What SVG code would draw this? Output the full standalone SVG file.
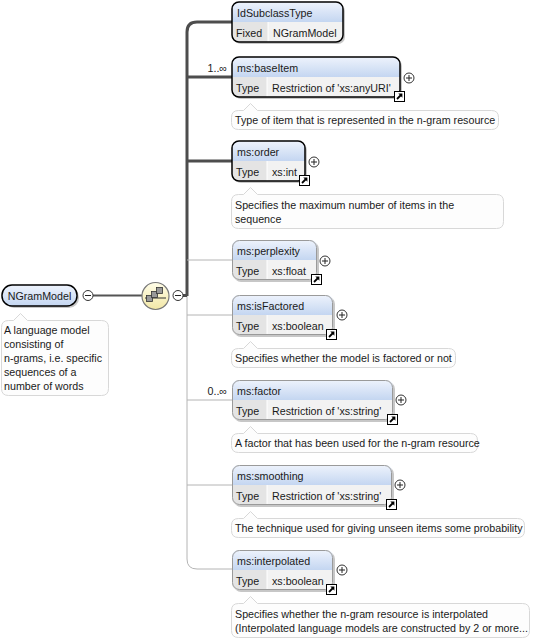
<svg xmlns="http://www.w3.org/2000/svg" width="554" height="640" viewBox="0 0 554 640">
<style>
.t{font-family:"Liberation Sans",Arial,sans-serif;font-size:10.7px;fill:#1a1a1a}
.hdr{fill:url(#hg)}
.body{fill:#f2f2f2}
.cell{fill:#e4e4e4}
.div{stroke:#fff;stroke-width:1}
.sh{fill:#000;opacity:0.22}
.req{fill:none;stroke:#000;stroke-width:1.5}
.opt{fill:none;stroke:#9a9a9a;stroke-width:1}
.doc{fill:#fdfdfd;stroke:#d8d8d8;stroke-width:1}
.thick{fill:none;stroke:#4d4d4d;stroke-width:3}
.thin{fill:none;stroke:#b4b4b4;stroke-width:1}
.btn{fill:#fff;stroke:#333;stroke-width:1}
.sign{stroke:#222;stroke-width:1}
</style>
<defs>
<linearGradient id="hg" x1="0" y1="0" x2="0" y2="1">
<stop offset="0" stop-color="#eef3fc"/>
<stop offset="1" stop-color="#c4d6f1"/>
</linearGradient>
<linearGradient id="yg" x1="0" y1="0" x2="0" y2="1">
<stop offset="0" stop-color="#fffde8"/>
<stop offset="1" stop-color="#f2e7a6"/>
</linearGradient>
<g id="plus"><circle r="5" class="btn"/><path d="M-3,0H3M0,-3V3" class="sign"/></g>
<g id="minus"><circle r="5" class="btn"/><path d="M-3,0H3" class="sign"/></g>
<g id="link"><rect x="0.5" y="0.5" width="10" height="10" fill="#fff" stroke="#000"/><path d="M3,8 L7,4" stroke="#000" stroke-width="1.8"/><path d="M4.3,2.6 L8.4,2.6 L8.4,6.7 Z" fill="#000"/></g>
</defs>

<g id="connectors">
<path class="thick" d="M232,22 H197 Q187,22 187,32 V296"/>
<path class="thick" d="M187,77 H232"/>
<path class="thick" d="M187,161 H232"/>
<path class="thin" d="M187,296 V559 Q187,569 197,569 H232"/>
<path class="thin" d="M187,260 H232"/>
<path class="thin" d="M187,315 H232"/>
<path class="thin" d="M187,400 H232"/>
<path class="thin" d="M187,485 H232"/>
<path d="M93,295.5 H142" stroke="#555" stroke-width="2"/>
<path d="M183,295.5 H187" stroke="#4d4d4d" stroke-width="3"/>
<text class="t" x="227" y="72" text-anchor="end">1..∞</text>
<text class="t" x="227" y="395" text-anchor="end">0..∞</text>
</g>

<g id="n-NGramModel">
<rect x="4" y="287" width="75" height="21" rx="10" class="sh"/>
<rect x="2" y="285" width="75" height="21" rx="10" class="hdr"/>
<rect x="2" y="285" width="75" height="21" rx="10" class="req"/>
<text class="t" x="39.5" y="299.5" text-anchor="middle">NGramModel</text>
<use href="#minus" x="88" y="295.5"/>
<path class="doc" d="M8.5,320.5 H13.5 L20.5,313.5 L27.5,320.5 H101.5 Q108.5,320.5 108.5,327.5 V388.5 Q108.5,395.5 101.5,395.5 H8.5 Q1.5,395.5 1.5,388.5 V327.5 Q1.5,320.5 8.5,320.5 Z"/>
<text class="t" x="4" y="334">A language model</text>
<text class="t" x="4" y="348">consisting of</text>
<text class="t" x="4" y="362">n-grams, i.e. specific</text>
<text class="t" x="4" y="376">sequences of a</text>
<text class="t" x="4" y="390">number of words</text>
</g>

<g id="n-sequence">
<circle cx="155.5" cy="296" r="13.5" fill="url(#yg)" stroke="#777" stroke-width="1.2"/>
<path d="M145,298 H166" stroke="#333" stroke-width="1"/>
<rect x="146.5" y="295.5" width="6" height="6" fill="#999" stroke="#333" stroke-width="0.8"/>
<rect x="151.5" y="291.5" width="6" height="6" fill="#999" stroke="#333" stroke-width="0.8"/>
<rect x="156.5" y="287.5" width="6" height="6" fill="#999" stroke="#333" stroke-width="0.8"/>
<use href="#minus" x="178" y="295.5"/>
</g>

<g id="n-IdSubclassType">
<rect x="234" y="4" width="111" height="40" rx="7" class="sh"/>
<rect x="232" y="2" width="111" height="40" rx="7" class="body"/>
<path class="hdr" d="M232,22 V9 Q232,2 239,2 H336 Q343,2 343,9 V22 Z"/>
<path class="cell" d="M232,22 H268 V42 H239 Q232,42 232,35 Z"/>
<path class="div" d="M268,22 V42"/>
<rect x="232" y="2" width="111" height="40" rx="7" class="req"/>
<text class="t" x="237" y="17">IdSubclassType</text>
<text class="t" x="236" y="37">Fixed</text>
<text class="t" x="273" y="37">NGramModel</text>
</g>

<g id="n-baseItem">
<rect x="234" y="59" width="168" height="40" rx="7" class="sh"/>
<rect x="232" y="57" width="168" height="40" rx="7" class="body"/>
<path class="hdr" d="M232,77 V64 Q232,57 239,57 H393 Q400,57 400,64 V77 Z"/>
<path class="cell" d="M232,77 H267 V97 H239 Q232,97 232,90 Z"/>
<path class="div" d="M267,77 V97"/>
<rect x="232" y="57" width="168" height="40" rx="7" class="req"/>
<text class="t" x="237" y="72">ms:baseItem</text>
<text class="t" x="236" y="92">Type</text>
<text class="t" x="272" y="92">Restriction of 'xs:anyURI'</text>
<use href="#plus" x="409" y="78"/>
<use href="#link" x="394" y="91"/>
<path class="doc" d="M238.5,110.5 H243.5 L250.5,103.5 L257.5,110.5 H491.5 Q498.5,110.5 498.5,117.5 V122.5 Q498.5,129.5 491.5,129.5 H238.5 Q231.5,129.5 231.5,122.5 V117.5 Q231.5,110.5 238.5,110.5 Z"/>
<text class="t" x="235" y="124">Type of item that is represented in the n-gram resource</text>
</g>

<g id="n-order">
<rect x="234" y="143" width="73" height="40" rx="7" class="sh"/>
<rect x="232" y="141" width="73" height="40" rx="7" class="body"/>
<path class="hdr" d="M232,161 V148 Q232,141 239,141 H298 Q305,141 305,148 V161 Z"/>
<path class="cell" d="M232,161 H267 V181 H239 Q232,181 232,174 Z"/>
<path class="div" d="M267,161 V181"/>
<rect x="232" y="141" width="73" height="40" rx="7" class="req"/>
<text class="t" x="237" y="156">ms:order</text>
<text class="t" x="236" y="176">Type</text>
<text class="t" x="272" y="176">xs:int</text>
<use href="#plus" x="314" y="162"/>
<use href="#link" x="299" y="175"/>
<path class="doc" d="M238.5,194.5 H243.5 L250.5,187.5 L257.5,194.5 H496.5 Q503.5,194.5 503.5,201.5 V221.5 Q503.5,228.5 496.5,228.5 H238.5 Q231.5,228.5 231.5,221.5 V201.5 Q231.5,194.5 238.5,194.5 Z"/>
<text class="t" x="235" y="209">Specifies the maximum number of items in the</text>
<text class="t" x="235" y="223">sequence</text>
</g>

<g id="n-perplexity">
<rect x="234" y="242" width="85" height="40" rx="7" class="sh"/>
<rect x="232" y="240" width="85" height="40" rx="7" class="body"/>
<path class="hdr" d="M232,260 V247 Q232,240 239,240 H310 Q317,240 317,247 V260 Z"/>
<path class="cell" d="M232,260 H267 V280 H239 Q232,280 232,273 Z"/>
<path class="div" d="M267,260 V280"/>
<rect x="232.5" y="240.5" width="84" height="39" rx="7" class="opt"/>
<text class="t" x="237" y="255">ms:perplexity</text>
<text class="t" x="236" y="275">Type</text>
<text class="t" x="272" y="275">xs:float</text>
<use href="#plus" x="325" y="261"/>
<use href="#link" x="311" y="274"/>
</g>

<g id="n-isFactored">
<rect x="234" y="297" width="101" height="40" rx="7" class="sh"/>
<rect x="232" y="295" width="101" height="40" rx="7" class="body"/>
<path class="hdr" d="M232,315 V302 Q232,295 239,295 H326 Q333,295 333,302 V315 Z"/>
<path class="cell" d="M232,315 H267 V335 H239 Q232,335 232,328 Z"/>
<path class="div" d="M267,315 V335"/>
<rect x="232.5" y="295.5" width="100" height="39" rx="7" class="opt"/>
<text class="t" x="237" y="310">ms:isFactored</text>
<text class="t" x="236" y="330">Type</text>
<text class="t" x="272" y="330">xs:boolean</text>
<use href="#plus" x="342" y="315"/>
<use href="#link" x="326" y="329"/>
<path class="doc" d="M238.5,348.5 H243.5 L250.5,341.5 L257.5,348.5 H448.5 Q455.5,348.5 455.5,355.5 V360.5 Q455.5,367.5 448.5,367.5 H238.5 Q231.5,367.5 231.5,360.5 V355.5 Q231.5,348.5 238.5,348.5 Z"/>
<text class="t" x="235" y="362">Specifies whether the model is factored or not</text>
</g>

<g id="n-factor">
<rect x="234" y="382" width="161" height="40" rx="7" class="sh"/>
<rect x="232" y="380" width="161" height="40" rx="7" class="body"/>
<path class="hdr" d="M232,400 V387 Q232,380 239,380 H386 Q393,380 393,387 V400 Z"/>
<path class="cell" d="M232,400 H267 V420 H239 Q232,420 232,413 Z"/>
<path class="div" d="M267,400 V420"/>
<rect x="232.5" y="380.5" width="160" height="39" rx="7" class="opt"/>
<text class="t" x="237" y="395">ms:factor</text>
<text class="t" x="236" y="415">Type</text>
<text class="t" x="272" y="415">Restriction of 'xs:string'</text>
<use href="#plus" x="401" y="400"/>
<use href="#link" x="387" y="414"/>
<path class="doc" d="M238.5,433.5 H243.5 L250.5,426.5 L257.5,433.5 H470.5 Q477.5,433.5 477.5,440.5 V445.5 Q477.5,452.5 470.5,452.5 H238.5 Q231.5,452.5 231.5,445.5 V440.5 Q231.5,433.5 238.5,433.5 Z"/>
<text class="t" x="235" y="447">A factor that has been used for the n-gram resource</text>
</g>

<g id="n-smoothing">
<rect x="234" y="467" width="160" height="40" rx="7" class="sh"/>
<rect x="232" y="465" width="160" height="40" rx="7" class="body"/>
<path class="hdr" d="M232,485 V472 Q232,465 239,465 H385 Q392,465 392,472 V485 Z"/>
<path class="cell" d="M232,485 H267 V505 H239 Q232,505 232,498 Z"/>
<path class="div" d="M267,485 V505"/>
<rect x="232.5" y="465.5" width="159" height="39" rx="7" class="opt"/>
<text class="t" x="237" y="480">ms:smoothing</text>
<text class="t" x="236" y="500">Type</text>
<text class="t" x="272" y="500">Restriction of 'xs:string'</text>
<use href="#plus" x="400" y="485"/>
<use href="#link" x="386" y="499"/>
<path class="doc" d="M238.5,518.5 H243.5 L250.5,511.5 L257.5,518.5 H517.5 Q524.5,518.5 524.5,525.5 V530.5 Q524.5,537.5 517.5,537.5 H238.5 Q231.5,537.5 231.5,530.5 V525.5 Q231.5,518.5 238.5,518.5 Z"/>
<text class="t" x="235" y="532">The technique used for giving unseen items some probability</text>
</g>

<g id="n-interpolated">
<rect x="234" y="552" width="101" height="40" rx="7" class="sh"/>
<rect x="232" y="550" width="101" height="40" rx="7" class="body"/>
<path class="hdr" d="M232,570 V557 Q232,550 239,550 H326 Q333,550 333,557 V570 Z"/>
<path class="cell" d="M232,570 H267 V590 H239 Q232,590 232,583 Z"/>
<path class="div" d="M267,570 V590"/>
<rect x="232.5" y="550.5" width="100" height="39" rx="7" class="opt"/>
<text class="t" x="237" y="565">ms:interpolated</text>
<text class="t" x="236" y="585">Type</text>
<text class="t" x="272" y="585">xs:boolean</text>
<use href="#plus" x="342" y="570"/>
<use href="#link" x="326" y="584"/>
<path class="doc" d="M238.5,603.5 H243.5 L250.5,596.5 L257.5,603.5 H522.5 Q529.5,603.5 529.5,610.5 V630.5 Q529.5,637.5 522.5,637.5 H238.5 Q231.5,637.5 231.5,630.5 V610.5 Q231.5,603.5 238.5,603.5 Z"/>
<text class="t" x="235" y="618">Specifies whether the n-gram resource is interpolated</text>
<text class="t" x="235" y="632">(Interpolated language models are constructed by 2 or more...</text>
</g>
</svg>
